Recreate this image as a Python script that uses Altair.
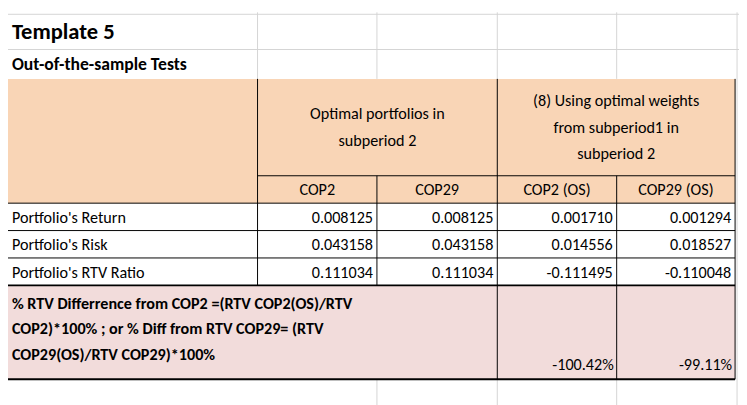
import altair as alt
import pandas as pd

FONT = "Carlito, Lato, Liberation Sans"

# data
row_labels = ["Portfolio's Return", "Portfolio's Risk", "Portfolio's RTV Ratio"]
col_labels = ["COP2", "COP29", "COP2 (OS)", "COP29 (OS)"]
values = [
    ["0.008125", "0.008125", "0.001710", "0.001294"],
    ["0.043158", "0.043158", "0.014556", "0.018527"],
    ["0.111034", "0.111034", "-0.111495", "-0.110048"],
]
pct_diff = ["-100.42%", "-99.11%"]
header1 = ["Optimal portfolios in", "subperiod 2"]
header2 = ["(8) Using optimal weights", "from subperiod1 in", "subperiod 2"]
note_lines = ["% RTV Differrence from COP2 =(RTV COP2(OS)/RTV",
              "COP2)*100% ; or % Diff from RTV COP29= (RTV",
              "COP29(OS)/RTV COP29)*100%"]

# layout (pixel grid of the sheet)
cx = [0, 255, 377, 500, 622, 743]
ry = [0, 38, 68, 167, 195, 223, 251, 279, 375, 405]
PEACH = "#F9D5B6"
PINK = "#F2DCDB"

rects = pd.DataFrame([
    dict(x=0, x2=743, y=68, y2=195, c=PEACH),
    dict(x=0, x2=743, y=279, y2=375, c=PINK),
])

lines = []
def L(x, x2, y, y2, c="black", w=1):
    lines.append(dict(x=x, x2=x2, y=y, y2=y2, c=c, w=w))
G = "#D4D4D4"
L(0, 747, 2, 2, G); L(0, 747, 38, 38, G); L(0, 747, 403, 403, G)
for x in [255, 377, 500, 622]:
    L(x, x, 0, 68, G)
for x in [377, 500, 622]:
    L(x, x, 375, 405, G)
L(745, 745, 0, 405, G)
L(255, 743, 167, 167)
for y in [195, 223, 251]:
    L(0, 743, y, y)
L(0, 743, 279, 279, w=2)
L(0, 743, 375, 375, w=2)
L(255, 255, 68, 279); L(500, 500, 68, 375)
L(377, 377, 167, 279); L(622, 622, 167, 375)
L(743, 743, 68, 375)
lines = pd.DataFrame(lines)

texts = []
def T(t, x, y, align="left", size=16.5, bold=False):
    texts.append(dict(t=t, x=x, y=y, a=align, s=size, b="bold" if bold else "normal"))
T("Template 5", 4, 20, size=23, bold=True)
T("Out-of-the-sample Tests", 4, 54, size=18, bold=True)
for i, t in enumerate(header1):
    T(t, 377.5, 104 + 28 * i, "center")
for i, t in enumerate(header2):
    T(t, 621.5, 91 + 27 * i, "center")
for j, t in enumerate(col_labels):
    T(t, (cx[j + 1] + cx[j + 2]) / 2, 182, "center")
for i, lab in enumerate(row_labels):
    y = (ry[i + 4] + ry[i + 5]) / 2 + 1
    T(lab, 4, y)
    for j, v in enumerate(values[i]):
        T(v, cx[j + 2] - 4, y, "right")
for i, t in enumerate(note_lines):
    T(t, 4, 298 + 26 * i, bold=True, size=16.5)
T(pct_diff[0], 619, 361, "right")
T(pct_diff[1], 740, 361, "right")
texts = pd.DataFrame(texts)

xs = alt.Scale(domain=[0, 747], range=[0, 747])
ys = alt.Scale(domain=[0, 405], range=[0, 405])

r = alt.Chart(rects).mark_rect().encode(
    x=alt.X("x:Q", scale=xs, axis=None), x2="x2:Q",
    y=alt.Y("y:Q", scale=ys, axis=None), y2="y2:Q",
    color=alt.Color("c:N", scale=None))
ln = alt.Chart(lines).mark_rule().encode(
    x=alt.X("x:Q", scale=xs, axis=None), x2="x2:Q",
    y=alt.Y("y:Q", scale=ys, axis=None), y2="y2:Q",
    color=alt.Color("c:N", scale=None),
    strokeWidth=alt.StrokeWidth("w:Q", scale=None))

layers = [r, ln]
for (a, s, b), g in texts.groupby(["a", "s", "b"]):
    layers.append(alt.Chart(g).mark_text(
        align=a, baseline="middle", fontSize=float(s), fontWeight=b,
        font=FONT, color="black").encode(
        x=alt.X("x:Q", scale=xs, axis=None),
        y=alt.Y("y:Q", scale=ys, axis=None), text="t:N"))

chart = alt.layer(*layers).properties(
    width=747, height=405, padding=0, autosize="none", background="white"
).configure_view(stroke=None)
chart.save("out.html", embed_options={"renderer": "svg", "actions": False})
